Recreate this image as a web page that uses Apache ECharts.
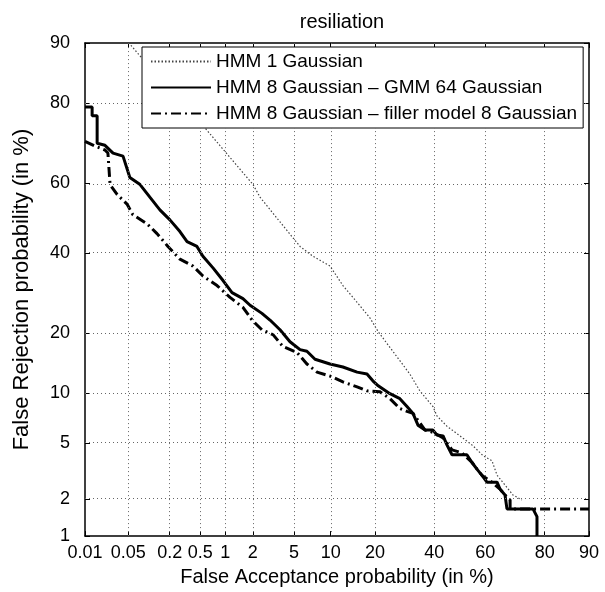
<!DOCTYPE html>
<html>
<head>
<meta charset="utf-8">
<script src="https://cdn.jsdelivr.net/npm/echarts@6/dist/echarts.min.js"></script>
<style>
html,body{margin:0;padding:0;background:#fff;}
#chart{width:605px;height:592px;}
</style>
</head>
<body>
<div id="chart"></div>
<script>
// ---- data (percent) ----
const xTicks = [0.01, 0.05, 0.2, 0.5, 1, 2, 5, 10, 20, 40, 60, 80, 90];
const yTicks = [1, 2, 5, 10, 20, 40, 60, 80, 90];
const xGrid = [0.05, 0.2, 0.5, 1, 2, 5, 10, 20, 40, 60, 80];
const yGrid = [2, 5, 10, 20, 40, 60, 80];

const seriesNames = ['HMM 1 Gaussian', 'HMM 8 Gaussian \u2013 GMM 64 Gaussian', 'HMM 8 Gaussian \u2013 filler model 8 Gaussian'];

const hmm1FA = [0.055, 0.17, 0.54, 2.01, 2.37, 3.72, 5.64, 7.26, 9.88, 12.3, 15.4, 18.6, 20.9, 31.0, 34.6, 39.5, 41.0, 44.9, 50.1, 55.2, 59.1, 62.5, 64.4, 67.3, 70.1, 73.1];
const hmm1FR = [89.7, 83.6, 75.1, 59.7, 56.1, 48.9, 41.8, 39.0, 36.3, 31.1, 26.9, 23.3, 20.3, 12.7, 10.3, 8.4, 7.4, 6.4, 5.55, 4.79, 4.11, 3.8, 3.0, 2.54, 2.14, 1.96];

const gmm64FA = [0.01, 0.0132, 0.0132, 0.016, 0.016, 0.0215, 0.029, 0.0416, 0.053, 0.0755, 0.105, 0.146, 0.201, 0.274, 0.34, 0.455, 0.54, 0.716, 0.94, 1.19, 1.57, 1.87, 2.48, 2.98, 3.72, 4.6, 5.64, 6.46, 7.54, 9.88, 12.3, 15.4, 17.85, 19.4, 20.9, 24.4, 27.6, 30.0, 32.1, 33.9, 36.5, 39.5, 41.0, 43.4, 44.9, 46.9, 52.8, 54.8, 56.8, 58.7, 60.6, 64.4, 65.5, 67.3, 68.0, 76.6, 77.8, 77.8];
const gmm64FR = [79.2, 79.2, 77.3, 77.3, 70.8, 70.3, 68.3, 67.5, 61.7, 59.7, 56.1, 52.4, 49.5, 46.1, 43.2, 41.8, 39.0, 35.8, 32.4, 29.3, 27.8, 26.2, 24.3, 22.8, 20.7, 18.3, 16.8, 16.5, 15.1, 14.3, 13.8, 13.0, 12.7, 11.7, 11.0, 9.95, 9.33, 8.42, 7.66, 6.49, 6.05, 6.05, 5.63, 5.55, 4.86, 4.17, 4.17, 3.69, 3.3, 2.99, 2.67, 2.67, 2.37, 2.14, 1.67, 1.67, 1.45, 1.0];

const fillerFA = [0.01, 0.0147, 0.0215, 0.024, 0.026, 0.0336, 0.048, 0.059, 0.095, 0.133, 0.189, 0.274, 0.405, 0.54, 0.80, 1.13, 1.57, 1.96, 2.48, 3.19, 3.96, 5.3, 6.46, 7.82, 9.88, 12.3, 15.4, 17.85, 21.4, 24.4, 27.6, 30.0, 32.1, 33.9, 36.5, 39.5, 43.4, 46.9, 50.8, 54.8, 58.7, 62.5, 65.5, 67.3, 69.1, 69.1, 90];
const fillerFR = [71.3, 70.1, 69.1, 68.3, 59.7, 56.9, 54.1, 51.0, 48.4, 45.5, 41.8, 38.2, 36.3, 33.6, 31.1, 28.1, 25.7, 22.8, 20.7, 19.7, 17.4, 16.3, 14.3, 13.0, 12.4, 11.55, 10.86, 10.33, 10.2, 9.33, 8.18, 7.87, 7.66, 6.96, 6.05, 5.85, 5.4, 4.5, 4.3, 3.69, 2.99, 2.67, 2.37, 2.14, 1.96, 1.67, 1.67];

// ---- normal deviate (probit) scale ----
function probit(p) {
  const a = [-3.969683028665376e+01, 2.209460984245205e+02, -2.759285104469687e+02, 1.383577518672690e+02, -3.066479806614716e+01, 2.506628277459239e+00];
  const b = [-5.447609879822406e+01, 1.615858368580409e+02, -1.556989798598866e+02, 6.680131188771972e+01, -1.328068155288572e+01];
  const c = [-7.784894002430293e-03, -3.223964580411365e-01, -2.400758277161838e+00, -2.549732539343734e+00, 4.374664141464968e+00, 2.938163982698783e+00];
  const d = [7.784695709041462e-03, 3.224671290700398e-01, 2.445134137142996e+00, 3.754408661907416e+00];
  const pl = 0.02425, ph = 1 - pl;
  let q, r;
  if (p < pl) {
    q = Math.sqrt(-2 * Math.log(p));
    return (((((c[0]*q+c[1])*q+c[2])*q+c[3])*q+c[4])*q+c[5]) / ((((d[0]*q+d[1])*q+d[2])*q+d[3])*q+1);
  } else if (p <= ph) {
    q = p - 0.5; r = q*q;
    return (((((a[0]*r+a[1])*r+a[2])*r+a[3])*r+a[4])*r+a[5])*q / (((((b[0]*r+b[1])*r+b[2])*r+b[3])*r+b[4])*r+1);
  } else {
    q = Math.sqrt(-2 * Math.log(1 - p));
    return -(((((c[0]*q+c[1])*q+c[2])*q+c[3])*q+c[4])*q+c[5]) / ((((d[0]*q+d[1])*q+d[2])*q+d[3])*q+1);
  }
}
const pz = v => probit(v / 100);
const pairs = (xs, ys) => xs.map((x, i) => [pz(x), pz(ys[i])]);
function labelFor(ticks) {
  return function (val) {
    for (const t of ticks) { if (Math.abs(pz(t) - val) < 1e-6) return String(t); }
    return '';
  };
}

const FONT = 'Liberation Sans, Arial, Helvetica, sans-serif';
const xMin = pz(xTicks[0]), xMax = pz(xTicks[xTicks.length - 1]);
const yMin = pz(yTicks[0]), yMax = pz(yTicks[yTicks.length - 1]);
const xTickVals = xTicks.map(pz), yTickVals = yTicks.map(pz);

const chart = echarts.init(document.getElementById('chart'), null, {renderer: 'canvas'});
const axisLine = {show: true, onZero: false, lineStyle: {color: '#000', width: 1.5}};
const option = {
  animation: false,
  backgroundColor: '#fff',
  title: {
    text: 'resiliation', left: 337, top: 7, textAlign: 'center',
    textStyle: {fontFamily: FONT, fontSize: 20, fontWeight: 'normal', color: '#000'}
  },
  grid: {left: 85, right: 16, top: 43, bottom: 47, containLabel: false},
  legend: {
    data: seriesNames,
    orient: 'vertical', left: 142, top: 47,
    padding: [5, 6, 5, 8], itemGap: 7, itemWidth: 60, itemHeight: 14,
    itemTextGap: 9,
    backgroundColor: '#fff', borderColor: '#000', borderWidth: 1,
    itemStyle: {opacity: 0},
    textStyle: {fontFamily: FONT, fontSize: 19, color: '#000'},
    z: 20, selectedMode: false
  },
  xAxis: [{
    type: 'value', min: xMin, max: xMax, position: 'bottom',
    name: 'False Acceptance probability (in %)', nameLocation: 'middle', nameGap: 25,
    nameTextStyle: {fontFamily: FONT, fontSize: 20, color: '#000'},
    axisLine: axisLine,
    axisTick: {show: true, inside: true, length: 5, customValues: xTickVals, lineStyle: {color: '#000'}},
    axisLabel: {customValues: xTickVals, formatter: labelFor(xTicks), margin: 8,
      fontFamily: FONT, fontSize: 18, color: '#000'},
    splitLine: {show: false}
  }, {
    type: 'value', min: xMin, max: xMax, position: 'top',
    axisLine: axisLine,
    axisTick: {show: true, inside: true, length: 5, customValues: xTickVals, lineStyle: {color: '#000'}},
    axisLabel: {show: false}, splitLine: {show: false}
  }],
  yAxis: [{
    type: 'value', min: yMin, max: yMax, position: 'left',
    name: 'False Rejection probability (in %)', nameLocation: 'middle', nameGap: 52,
    nameTextStyle: {fontFamily: FONT, fontSize: 22, color: '#000'},
    axisLine: axisLine,
    axisTick: {show: true, inside: true, length: 5, customValues: yTickVals, lineStyle: {color: '#000'}},
    axisLabel: {customValues: yTickVals, formatter: labelFor(yTicks), margin: 15,
      fontFamily: FONT, fontSize: 18, color: '#000'},
    splitLine: {show: false}
  }, {
    type: 'value', min: yMin, max: yMax, position: 'right',
    axisLine: axisLine,
    axisTick: {show: true, inside: true, length: 5, customValues: yTickVals, lineStyle: {color: '#000'}},
    axisLabel: {show: false}, splitLine: {show: false}
  }],
  series: [
    {
      name: 'gridlines', type: 'line', data: [], silent: true,
      markLine: {
        silent: true, symbol: ['none', 'none'], label: {show: false},
        lineStyle: {color: '#666', width: 1, type: [1, 3]},
        emphasis: {disabled: true},
        data: xGrid.map(v => ({xAxis: pz(v)})).concat(yGrid.map(v => ({yAxis: pz(v)})))
      }
    },
    {
      name: seriesNames[0], type: 'line', data: pairs(hmm1FA, hmm1FR),
      symbol: 'none', showSymbol: false,
      lineStyle: {color: '#444', width: 1.2, type: [1.5, 2]}, itemStyle: {color: '#444'}
    },
    {
      name: seriesNames[1], type: 'line', data: pairs(gmm64FA, gmm64FR),
      symbol: 'none', showSymbol: false,
      lineStyle: {color: '#000', width: 3, type: 'solid'}, itemStyle: {color: '#000'}
    },
    {
      name: seriesNames[2], type: 'line', data: pairs(fillerFA, fillerFR),
      symbol: 'none', showSymbol: false,
      lineStyle: {color: '#000', width: 3, type: [10, 4, 2, 4]}, itemStyle: {color: '#000'}
    }
  ]
};
chart.setOption(option);
</script>
</body>
</html>
